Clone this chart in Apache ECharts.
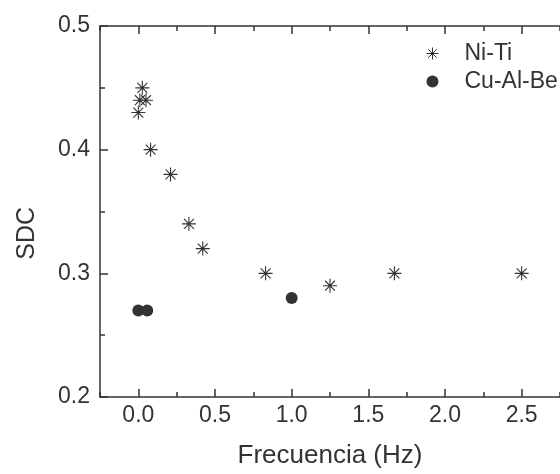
<!DOCTYPE html>
<html>
<head>
<meta charset="utf-8">
<script src="https://cdn.jsdelivr.net/npm/echarts@6/dist/echarts.min.js"></script>
<style>
html,body{margin:0;padding:0;background:#fff;}
#c{width:560px;height:474px;}
</style>
</head>
<body>
<div id="c"></div>
<script>
// Data
var niTiFreq = [0.0, 0.01, 0.05, 0.026, 0.08, 0.21, 0.33, 0.42, 0.83, 1.25, 1.67, 2.5];
var niTiSDC  = [0.43, 0.44, 0.44, 0.45, 0.40, 0.38, 0.34, 0.32, 0.30, 0.29, 0.30, 0.30];
var cuFreq = [0.0, 0.058, 1.0];
var cuSDC  = [0.27, 0.27, 0.28];
var xMajorTicks = [0, 0.5, 1.0, 1.5, 2.0, 2.5];
var xMinorTicks = [-0.25, 0.25, 0.75, 1.25, 1.75, 2.25, 2.75];
var seriesNames = ['Ni-Ti', 'Cu-Al-Be'];

var FONT = '"Liberation Sans", Arial, Helvetica, sans-serif';
var INK = '#333333';
var STAR = 'path://M0,7L14,7M7,0L7,14M2.05,2.05L11.95,11.95M2.05,11.95L11.95,2.05';

function pairs(xs, ys){ return xs.map(function(x,i){ return [x, ys[i]]; }); }

var chart = echarts.init(document.getElementById('c'), null, {renderer:'canvas'});

function xAxisDef(pos, vals, len, showLine, showLabel, name){
  var ax = {
    type:'value', position:pos, min:-0.25, max:2.75,
    axisLine:{show:showLine, onZero:false, lineStyle:{color:INK, width:1.5}},
    axisTick:{show:true, inside:true, length:len, customValues:vals, lineStyle:{color:INK, width:1.5}},
    axisLabel:{show:showLabel, customValues:vals, fontSize:23, fontFamily:FONT, color:INK, margin:7,
      formatter:function(v){ return v.toFixed(1); }},
    splitLine:{show:false}
  };
  if (name){
    ax.name = name; ax.nameLocation = 'middle'; ax.nameGap = 46;
    ax.nameTextStyle = {fontSize:26, fontFamily:FONT, color:INK};
  }
  return ax;
}

var option = {
  animation:false,
  backgroundColor:'#ffffff',
  grid:{left:100, top:26, width:468, height:378, containLabel:false},
  xAxis:[
    xAxisDef('bottom', xMajorTicks, 8, true, true, 'Frecuencia (Hz)'),
    xAxisDef('bottom', xMinorTicks, 5, false, false),
    xAxisDef('top', xMajorTicks, 8, true, false),
    xAxisDef('top', xMinorTicks, 5, false, false)
  ],
  yAxis:[{
    type:'value', position:'left', min:0.2, max:0.5, interval:0.1,
    axisLine:{show:true, onZero:false, lineStyle:{color:INK, width:1.5}},
    axisTick:{show:true, inside:true, length:8, lineStyle:{color:INK, width:1.5}},
    minorTick:{show:true, splitNumber:2, length:5, lineStyle:{color:INK, width:1.5}},
    axisLabel:{fontSize:23, fontFamily:FONT, color:INK, margin:10,
      formatter:function(v){ return v.toFixed(1); }},
    splitLine:{show:false}, minorSplitLine:{show:false}
  }],
  legend:{
    orient:'vertical', left:424, top:42, itemGap:5, padding:0,
    itemWidth:12, itemHeight:12,
    textStyle:{fontSize:23, fontFamily:FONT, color:INK, lineHeight:23, padding:[0,0,0,21]},
    data:[
      {name:seriesNames[0], icon:STAR, itemStyle:{color:'none', borderColor:INK, borderWidth:1}},
      {name:seriesNames[1], icon:'circle', itemStyle:{color:INK}}
    ]
  },
  graphic:[{
    type:'text', left:15, top:207, rotation:Math.PI/2,
    style:{text:'SDC', fontSize:25, fontFamily:FONT, fill:INK}
  }],
  series:[
    {
      name:seriesNames[0], type:'scatter', xAxisIndex:0, yAxisIndex:0,
      symbol:STAR, symbolSize:14,
      itemStyle:{color:'none', borderColor:INK, borderWidth:1.1, opacity:1},
      data:pairs(niTiFreq, niTiSDC)
    },
    {
      name:seriesNames[1], type:'scatter', xAxisIndex:0, yAxisIndex:0,
      symbol:'circle', symbolSize:12,
      itemStyle:{color:INK, opacity:1},
      data:pairs(cuFreq, cuSDC)
    }
  ]
};
chart.setOption(option);
</script>
</body>
</html>
